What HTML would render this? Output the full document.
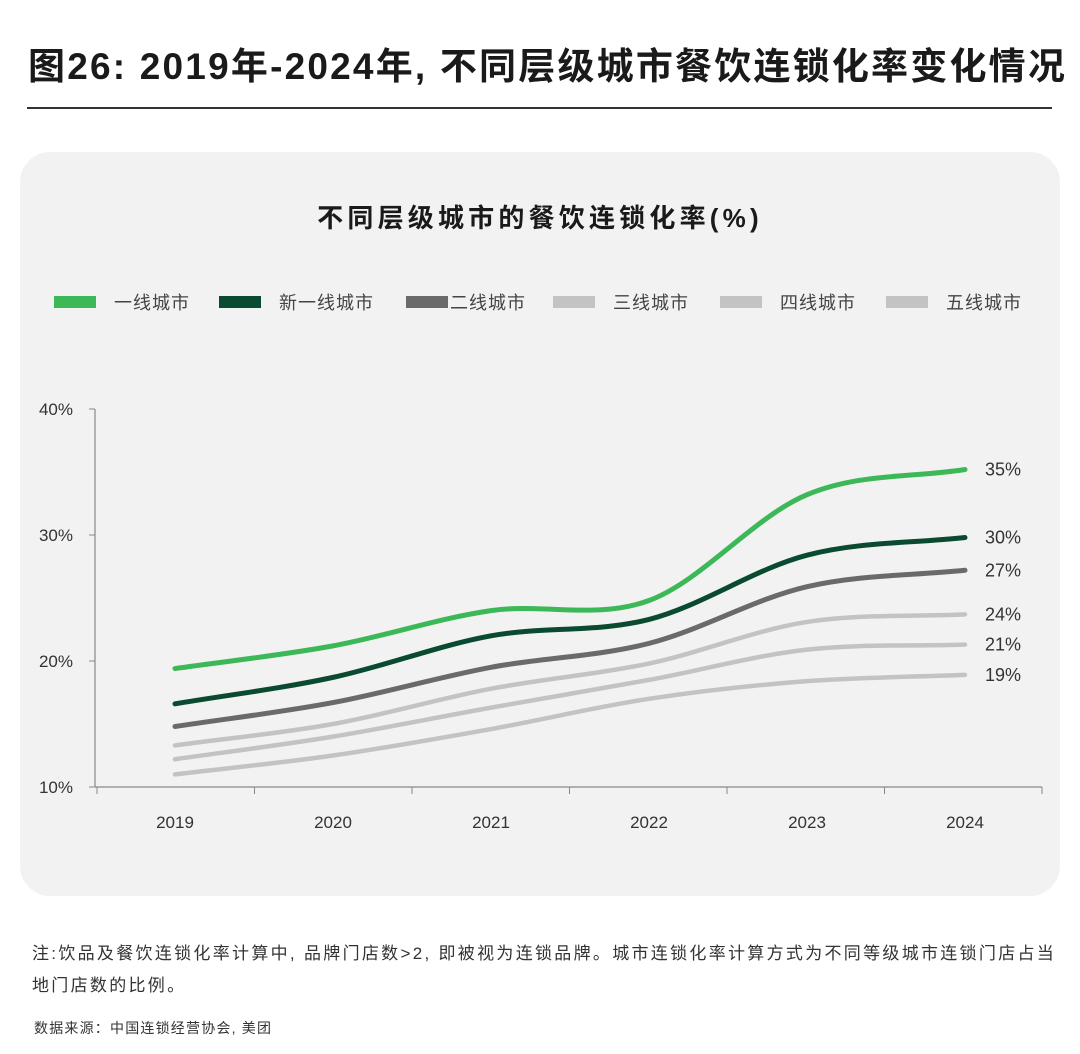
<!DOCTYPE html>
<html><head><meta charset="utf-8">
<style>
body{margin:0;width:1080px;height:1054px;background:#fff;font-family:"Liberation Sans","Noto Sans CJK SC",sans-serif;position:relative;overflow:hidden}
.t{position:absolute;white-space:nowrap;color:#1a1a1a}
</style></head><body>
<div class="t" style="left:28px;top:36px;font-size:37px;font-weight:bold;font-family:'Liberation Sans','Noto Sans CJK SC',sans-serif;letter-spacing:2.2px">图26: 2019年-2024年, 不同层级城市餐饮连锁化率变化情况</div>
<div style="position:absolute;left:27px;top:107px;width:1025px;height:1.5px;background:#333"></div>
<div style="position:absolute;left:20px;top:152px;width:1040px;height:744px;background:#f2f2f2;border-radius:30px"></div>
<svg id="c" width="1080" height="1054" style="position:absolute;left:0;top:0" font-family="Liberation Sans, Noto Sans CJK SC, sans-serif"></svg>
<div class="t" style="left:32px;top:938px;font-size:17px;line-height:32px;color:#333;letter-spacing:2.3px">注:饮品及餐饮连锁化率计算中, 品牌门店数&gt;2, 即被视为连锁品牌。城市连锁化率计算方式为不同等级城市连锁门店占当<br>地门店数的比例。</div>
<div class="t" style="left:34px;top:1018px;font-size:14px;color:#333;letter-spacing:1.2px">数据来源：中国连锁经营协会, 美团</div>
<script>
const years=["2019","2020","2021","2022","2023","2024"];
const yTicks=[10,20,30,40];
const tier1=[19.4,21.2,24.0,24.8,33.2,35.2];
const newTier1=[16.6,18.7,22.0,23.3,28.4,29.8];
const tier2=[14.8,16.7,19.5,21.4,25.9,27.2];
const tier3=[13.3,15.0,17.8,19.8,23.1,23.7];
const tier4=[12.2,14.0,16.3,18.5,20.9,21.3];
const tier5=[11.0,12.5,14.6,17.0,18.4,18.9];
const endLabels=["35%","30%","27%","24%","21%","19%"];
const names=["一线城市","新一线城市","二线城市","三线城市","四线城市","五线城市"];
const series=[tier1,newTier1,tier2,tier3,tier4,tier5];
const colors=["#3db858","#0a4a31","#6a6a6a","#c3c3c3","#c3c3c3","#c3c3c3"];
const ns="http://www.w3.org/2000/svg",svg=document.getElementById('c');
const x=i=>175+i*158, y=v=>787-(v-10)*12.6;
function el(t,a,txt){const e=document.createElementNS(ns,t);for(const k in a)e.setAttribute(k,a[k]);if(txt!=null)e.textContent=txt;svg.appendChild(e);return e;}
let e=el('text',{x:540,y:227,'text-anchor':'middle','font-size':26,'font-weight':'bold',fill:'#1a1a1a','letter-spacing':4.2},'不同层级城市的餐饮连锁化率(%)');

const lx=[54,219,406,553,720,886];
names.forEach((n,i)=>{
 let r=el('rect',{x:lx[i],y:296,width:42,height:12,fill:colors[i]});
 
 let t=el('text',{x:lx[i]+(i==2?44:60),y:309,'font-size':18,fill:'#444','letter-spacing':1},n);
 
});
e=el('line',{x1:95,y1:409,x2:95,y2:787,stroke:'#888','stroke-width':1.2});

e=el('line',{x1:95,y1:787,x2:1042,y2:787,stroke:'#888','stroke-width':1.2});

yTicks.forEach(v=>{
 el('line',{x1:89,y1:y(v),x2:95,y2:y(v),stroke:'#888'});
 let t=el('text',{x:73,y:y(v)+6,'text-anchor':'end','font-size':17,fill:'#333'},v+'%');
 
});
for(let i=0;i<=years.length;i++){el('line',{x1:97+i*157.5,y1:787,x2:97+i*157.5,y2:794,stroke:'#888'});}
years.forEach((yr,i)=>{let t=el('text',{x:x(i),y:828,'text-anchor':'middle','font-size':17,fill:'#333'},yr);
 });
function path(d){
 const p=d.map((v,i)=>[x(i),y(v)]),n=p.length,m=[],dl=[];
 for(let i=0;i<n-1;i++)dl.push((p[i+1][1]-p[i][1])/(p[i+1][0]-p[i][0]));
 for(let i=0;i<n;i++){if(i==0)m.push(dl[0]);else if(i==n-1)m.push(dl[n-2]);else m.push(dl[i-1]*dl[i]<=0?0:(dl[i-1]+dl[i])/2);}
 let s=`M${p[0][0]},${p[0][1]}`;
 for(let i=0;i<n-1;i++){const h=(p[i+1][0]-p[i][0])/3;s+=` C${p[i][0]+h},${p[i][1]+m[i]*h} ${p[i+1][0]-h},${p[i+1][1]-m[i+1]*h} ${p[i+1][0]},${p[i+1][1]}`;}
 return s;}
for(let k=series.length-1;k>=0;k--){
 let l=el('path',{d:path(series[k]),fill:'none',stroke:colors[k],'stroke-width':k<3?5:4.5,'stroke-linecap':'round'});
 
 let t=el('text',{x:985,y:y(series[k][5])+6,'font-size':18,fill:'#333'},endLabels[k]);
 
}
</script>
</body></html>
